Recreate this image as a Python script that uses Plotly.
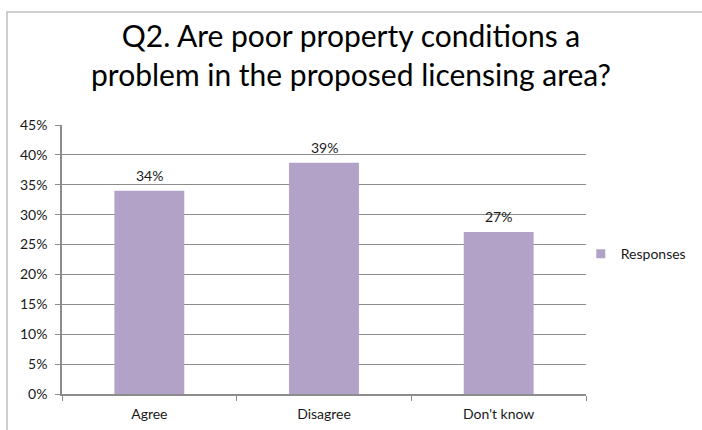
import plotly.graph_objects as go

categories = ["Agree", "Disagree", "Don't know"]
values = [0.340, 0.387, 0.271]
series_name = "Responses"
title_lines = ["Q2. Are poor property conditions a", "problem in the proposed licensing area?"]

FONT = "Lato, Carlito, Calibri, sans-serif"
BAR = "#b3a2c7"
GRID = "#8c8c8c"

fig = go.Figure(go.Bar(
    x=categories, y=values, name=series_name,
    marker=dict(color=BAR, line=dict(width=0)),
    showlegend=False,
))
# legend-only entry with a small square symbol
fig.add_trace(go.Scatter(
    x=[None], y=[None], mode="markers", name=series_name,
    marker=dict(symbol="square", size=9, color=BAR),
    showlegend=True,
))

annotations = [
    dict(x=c, y=v, xref="x", yref="y", text=f"{round(v * 100)}%",
         showarrow=False, yanchor="bottom", yshift=5,
         font=dict(size=14, family=FONT, color="#1a1a1a"))
    for c, v in zip(categories, values)
]

fig.update_layout(
    width=702, height=430,
    margin=dict(l=62, r=116, t=125, b=36, autoexpand=False),
    paper_bgcolor="white", plot_bgcolor="white",
    bargap=0.6,
    font=dict(family=FONT, size=14, color="#1a1a1a"),
    title=dict(text="<br>".join(title_lines), x=0.5, xanchor="center",
               xref="container", y=0.89, yanchor="middle",
               font=dict(size=30, family=FONT, color="#000000")),
    legend=dict(x=0.99, y=0.52, xanchor="left", yanchor="middle",
                font=dict(size=14, family=FONT), itemwidth=30,
                bgcolor="rgba(0,0,0,0)"),
    xaxis=dict(showline=True, linecolor=GRID, linewidth=1.5,
               ticks="outside", tickson="boundaries", ticklen=5, tickcolor=GRID,
               tickfont=dict(size=14), showgrid=False, ticklabelstandoff=6),
    yaxis=dict(range=[0, 0.45], dtick=0.05, tickformat=".0%",
               showgrid=True, gridcolor=GRID, gridwidth=1.3,
               showline=True, linecolor=GRID, linewidth=1.5,
               ticks="outside", ticklen=5, tickcolor=GRID,
               tickfont=dict(size=14), zeroline=False, ticklabelstandoff=5),
    annotations=annotations,
    shapes=[dict(type="rect", xref="paper", yref="paper",
                 x0=-0.105, x1=1.5, y0=-0.3, y1=1.42,
                 line=dict(color="#bfbfbf", width=1.5), layer="below")],
)

fig.write_html("out.html")
